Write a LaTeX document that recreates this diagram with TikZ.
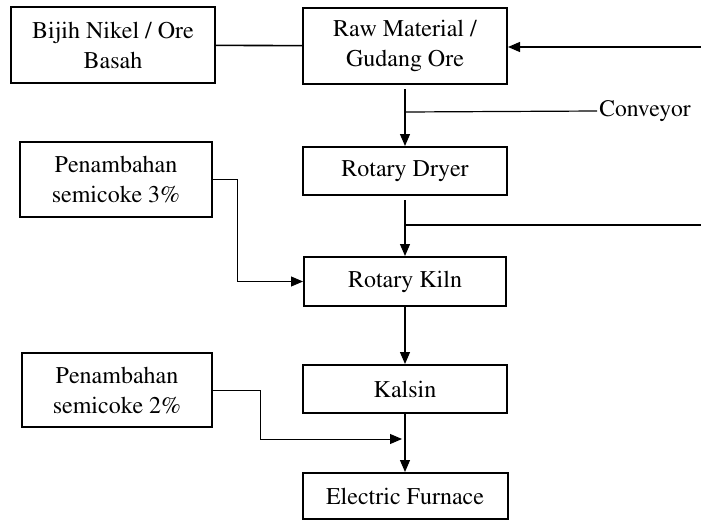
\documentclass[tikz,border=0pt]{standalone}
\usepackage[T1]{fontenc}
\renewcommand\rmdefault{ptm}
\usetikzlibrary{arrows.meta,calc}
\begin{document}
\begin{tikzpicture}[x=0.5pt, y=-0.5pt,
    procbox/.style={draw, line width=1pt, align=center, inner sep=0pt,
        font=\fontsize{12}{15}\selectfont},
    flow/.style={line width=0.6pt, -{Triangle[length=6pt,width=5pt]}},
    feed/.style={line width=0.45pt, -{Triangle[length=6pt,width=5pt]}},
    plain/.style={line width=0.6pt}]
    \useasboundingbox (0,0) rectangle (701,520);
    % main column
    \node[procbox, minimum width=102pt, minimum height=38pt] (ore) at (113,45) {Bijih Nikel / Ore\\Basah};
    \node[procbox, minimum width=102pt, minimum height=38pt] (raw) at (405,46) {Raw Material /\\Gudang Ore};
    \node[procbox, minimum width=102pt, minimum height=24pt] (dryer) at (405,171) {Rotary Dryer};
    \node[procbox, minimum width=101pt, minimum height=24.5pt] (kiln) at (405,281.5) {Rotary Kiln};
    \node[procbox, minimum width=102pt, minimum height=24pt] (kalsin) at (405,389) {Kalsin};
    \node[procbox, minimum width=102.5pt, minimum height=23pt] (furnace) at (405,496) {Electric Furnace};
    % additions
    \node[procbox, minimum width=96pt, minimum height=37.5pt] (semi3) at (116,179.5) {Penambahan\\semicoke 3\%};
    \node[procbox, minimum width=95pt, minimum height=37pt] (semi2) at (117,390) {Penambahan\\semicoke 2\%};
    % free ends
    \coordinate (inA) at (701,47);
    \coordinate (conv) at (raw.south |- 0,112);
    \node[anchor=west, inner sep=1pt, font=\fontsize{11.8}{15}\selectfont] (convlbl) at (597,111) {Conveyor};
    \coordinate (inB) at (701,225);
    \coordinate (tapB) at (dryer.south |- 0,225);
    \coordinate (tapC) at (kalsin.south |- 0,439);
    % connectors
    \draw[plain, line width=0.8pt] (ore) -- (raw);
    \draw[flow] (inA) -- (inA -| raw.east);
    \draw[flow, shorten <=2pt] (raw.south) -- (dryer.north);
    \draw[plain] (conv) -- (convlbl.west);
    \draw[flow, shorten <=2pt] (dryer.south) -- (kiln.north);
    \draw[plain] (tapB) -- (inB);
    \draw[flow] (kiln.south) -- (kalsin.north);
    \draw[flow] (kalsin.south) -- (furnace.north);
    \draw[feed] (semi3.east) -- ++(24,0) |- (kiln.west);
    \draw[feed, shorten >=1.5pt] (semi2.east) -- ++(47,0) |- (tapC);
\end{tikzpicture}
\end{document}
